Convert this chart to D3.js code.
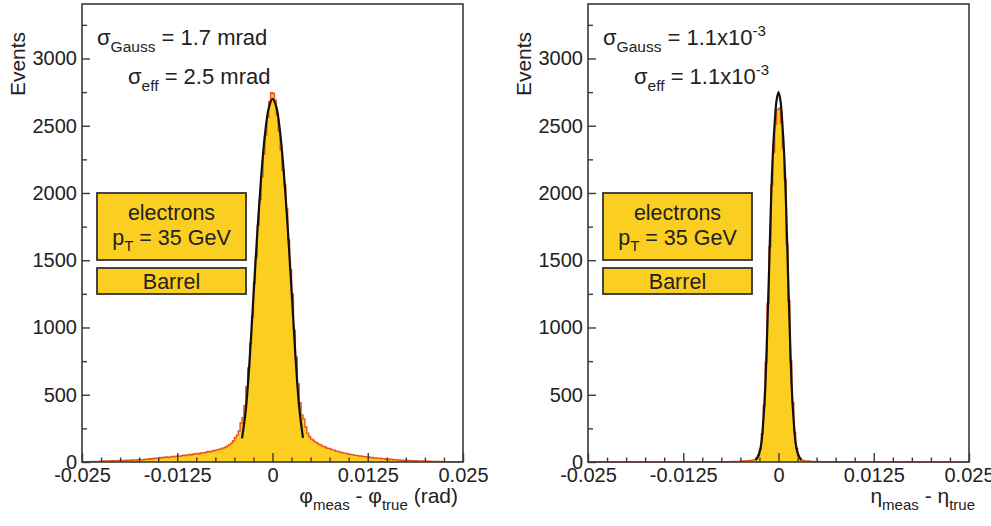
<!DOCTYPE html>
<html>
<head>
<meta charset="utf-8">
<script src="https://cdn.jsdelivr.net/npm/d3@7/dist/d3.min.js"></script>
<style>
  html, body { margin: 0; padding: 0; background: #fff; }
  svg { display: block; }
  text { font-family: "Liberation Sans", Arial, Helvetica, sans-serif; fill: #222; }
</style>
</head>
<body>
<svg id="chart" width="991" height="526"></svg>
<script>
// ---------------- DATA ----------------
const xDomain = [-0.025, 0.025];
const yDomain = [0, 3405];
const xMajorTicks = [-0.025, -0.0125, 0, 0.0125, 0.025];
const xTickLabels = ["-0.025", "-0.0125", "0", "0.0125", "0.025"];
const xMinorTicks = [-0.0225, -0.02, -0.0175, -0.015, -0.01, -0.0075, -0.005, -0.0025,
                     0.0025, 0.005, 0.0075, 0.01, 0.015, 0.0175, 0.02, 0.0225];
const yMajorTicks = [0, 500, 1000, 1500, 2000, 2500, 3000];
const yTickLabels = ["0", "500", "1000", "1500", "2000", "2500", "3000"];
const yMinorTicks = [250, 750, 1250, 1750, 2250, 2750, 3250];

// phi residual histogram: 200 bins of 0.00025 from -0.025
const phiBinWidth = 0.00025;
const phiCounts = [
  1, 2, 2, 3, 3, 4, 4, 5, 5, 6,
  6, 7, 7, 8, 8, 9, 9, 10, 10, 11,
  11, 12, 12, 13, 14, 13, 15, 16, 15, 17,
  18, 17, 19, 21, 20, 24, 22, 26, 28, 27,
  30, 33, 31, 35, 37, 34, 38, 41, 39, 43,
  45, 42, 47, 50, 48, 53, 56, 52, 58, 61,
  64, 60, 67, 70, 68, 74, 78, 75, 82, 85,
  88, 92, 96, 100, 105, 112, 120, 128, 140, 158,
  180, 200, 230, 290, 330, 420, 560, 700, 880, 1080,
  1330, 1520, 1760, 1950, 2120, 2290, 2430, 2560, 2680, 2745,
  2740, 2690, 2580, 2460, 2320, 2170, 2060, 1880, 1650, 1430,
  1250, 980, 780, 580, 440, 350, 320, 260, 215, 190,
  170, 162, 148, 142, 130, 127, 116, 113, 104, 101,
  97, 90, 88, 80, 79, 72, 71, 66, 65, 59,
  58, 55, 53, 49, 49, 45, 45, 41, 40, 37,
  37, 34, 34, 30, 31, 27, 28, 25, 25, 22,
  22, 19, 20, 17, 18, 15, 16, 13, 14, 12,
  12, 11, 12, 10, 9, 9, 8, 8, 7, 7,
  7, 6, 6, 5, 5, 5, 4, 4, 4, 3,
  3, 3, 2, 3, 2, 2, 1, 2, 1, 1
];
// Gaussian fit curve (phi)
const phiFitX = [-0.004, -0.0035, -0.003, -0.0025, -0.002, -0.0015, -0.001, -0.0005, 0,
                 0.0005, 0.001, 0.0015, 0.002, 0.0025, 0.003, 0.0035, 0.004];
const phiFitY = [176, 390, 760, 1230, 1700, 2110, 2430, 2630, 2700,
                 2640, 2450, 2140, 1740, 1280, 800, 410, 180];

// eta residual histogram: 200 bins of 0.00025 from -0.025
const etaBinWidth = 0.00025;
const etaCounts = [
  0, 0, 0, 0, 0, 0, 0, 0, 0, 0,
  0, 0, 0, 0, 0, 0, 0, 0, 0, 0,
  0, 0, 0, 0, 0, 0, 0, 0, 0, 0,
  0, 0, 0, 0, 0, 0, 0, 0, 0, 0,
  1, 0, 1, 1, 0, 1, 1, 1, 0, 1,
  1, 1, 1, 0, 1, 1, 1, 1, 1, 1,
  1, 1, 1, 1, 2, 1, 2, 2, 2, 2,
  2, 3, 2, 3, 3, 4, 3, 4, 5, 5,
  6, 7, 8, 9, 10, 12, 14, 18, 28, 48,
  95, 210, 420, 740, 1180, 1600, 2060, 2300, 2510, 2620,
  2630, 2520, 2330, 2100, 1620, 1200, 750, 440, 220, 100,
  45, 24, 14, 10, 8, 7, 6, 5, 5, 4,
  4, 3, 3, 3, 2, 2, 2, 2, 2, 1,
  1, 1, 2, 1, 1, 1, 1, 1, 1, 1,
  1, 1, 0, 1, 1, 1, 0, 1, 1, 0,
  1, 1, 0, 1, 0, 1, 1, 0, 1, 0,
  0, 0, 0, 0, 0, 0, 0, 0, 0, 0,
  0, 0, 0, 0, 0, 0, 0, 0, 0, 0,
  0, 0, 0, 0, 0, 0, 0, 0, 0, 0,
  0, 0, 0, 0, 0, 0, 0, 0, 0, 0
];
// Gaussian fit curve (eta)
const etaFitX = [-0.003, -0.00275, -0.0025, -0.00225, -0.002, -0.00175, -0.0015, -0.00125,
                 -0.001, -0.00075, -0.0005, -0.00025, 0, 0.00025, 0.0005, 0.00075, 0.001,
                 0.00125, 0.0015, 0.00175, 0.002, 0.00225, 0.0025, 0.00275, 0.003];
const etaFitY = [15, 35, 70, 140, 300, 540, 940, 1400,
                 1900, 2280, 2520, 2690, 2750, 2690, 2520, 2280, 1900,
                 1400, 940, 540, 300, 140, 70, 35, 15];

// annotation texts
const leftSigmaGauss = "1.7 mrad";
const leftSigmaEff = "2.5 mrad";
const rightSigmaGauss = ["1.1x10", "-3"];
const rightSigmaEff = ["1.1x10", "-3"];
const boxLine1 = "electrons";
const boxLine2 = ["p", "T", " = 35 GeV"];
const boxLine3 = "Barrel";

// ---------------- STYLE ----------------
const histFill = "#FBCE1F";
const histLine = "#E8541E";
const boxFill = "#FBCF22";
const frameColor = "#3a3a3a";

const svg = d3.select("#chart");
svg.append("rect").attr("width", 991).attr("height", 526).attr("fill", "#fff");

const plotLeft = 82, plotRight = 463, plotTop = 4, plotBottom = 462;
const x = d3.scaleLinear().domain(xDomain).range([plotLeft, plotRight]);
const y = d3.scaleLinear().domain(yDomain).range([plotBottom, plotTop]);

function drawPanel(offset, counts, binWidth, fitX, fitY, annot, xTitle) {
  const g = svg.append("g").attr("transform", `translate(${offset},0)`);

  // histogram
  const pts = counts.map((c, i) => ({ x: xDomain[0] + i * binWidth, v: c }));
  pts.push({ x: xDomain[0] + counts.length * binWidth, v: counts[counts.length - 1] });
  const area = d3.area().curve(d3.curveStepAfter)
    .x(d => x(d.x)).y0(y(0)).y1(d => y(d.v));
  const line = d3.line().curve(d3.curveStepAfter)
    .x(d => x(d.x)).y(d => y(d.v));
  g.append("path").attr("d", area(pts)).attr("fill", histFill).attr("stroke", "none");
  g.append("path").attr("d", line(pts)).attr("fill", "none")
    .attr("stroke", histLine).attr("stroke-width", 1.4);

  // fit
  const fitPts = fitX.map((xv, i) => ({ x: xv, v: fitY[i] }));
  const fitLine = d3.line().curve(d3.curveCatmullRom.alpha(0.5))
    .x(d => x(d.x)).y(d => y(d.v));
  g.append("path").attr("d", fitLine(fitPts)).attr("fill", "none")
    .attr("stroke", "#111").attr("stroke-width", 2.2);

  // axes
  const xMaj = d3.axisBottom(x).tickValues(xMajorTicks)
    .tickFormat((d, i) => xTickLabels[i]).tickSize(-9).tickPadding(6);
  const xMin = d3.axisBottom(x).tickValues(xMinorTicks).tickFormat("").tickSize(-4.5);
  const yMaj = d3.axisLeft(y).tickValues(yMajorTicks)
    .tickFormat((d, i) => yTickLabels[i]).tickSize(-8).tickPadding(5);
  const yMin = d3.axisLeft(y).tickValues(yMinorTicks).tickFormat("").tickSize(-5);

  [[xMaj, `translate(0,${plotBottom})`], [xMin, `translate(0,${plotBottom})`],
   [yMaj, `translate(${plotLeft},0)`], [yMin, `translate(${plotLeft},0)`]].forEach(([ax, tr]) => {
    const a = g.append("g").attr("transform", tr).call(ax);
    a.select(".domain").remove();
    a.selectAll("line").attr("stroke", frameColor).attr("stroke-width", 1.4);
    a.selectAll("text").attr("font-size", 20).attr("fill", "#222")
      .attr("font-family", "'Liberation Sans', Arial, sans-serif");
  });

  // frame
  g.append("rect").attr("x", plotLeft).attr("y", plotTop)
    .attr("width", plotRight - plotLeft).attr("height", plotBottom - plotTop)
    .attr("fill", "none").attr("stroke", frameColor).attr("stroke-width", 1.6);

  // y title
  g.append("text").attr("transform", "translate(25,64) rotate(-90)")
    .attr("text-anchor", "middle").attr("font-size", 21).text("Events");

  // x title
  const xt = g.append("text").attr("x", xTitle.end).attr("y", 503)
    .attr("text-anchor", "end").attr("font-size", 21);
  xt.append("tspan").text(xTitle.sym);
  xt.append("tspan").attr("font-size", 15).attr("dy", 7).text("meas");
  xt.append("tspan").attr("dy", -7).text(" - " + xTitle.sym);
  xt.append("tspan").attr("font-size", 15).attr("dy", 7).text("true");
  if (xTitle.unit) xt.append("tspan").attr("dy", -7).text(" " + xTitle.unit);

  // sigma annotations
  const t1 = g.append("text").attr("x", 97).attr("y", 45).attr("font-size", 22);
  t1.append("tspan").text("σ");
  t1.append("tspan").attr("font-size", 15.5).attr("dy", 7).text("Gauss");
  if (annot.sup1) {
    t1.append("tspan").attr("dy", -7).text(" = " + annot.g[0]);
    t1.append("tspan").attr("font-size", 15).attr("dy", -9).text(annot.g[1]);
  } else {
    t1.append("tspan").attr("dy", -7).text(" = " + annot.g);
  }
  const t2 = g.append("text").attr("x", 128).attr("y", 84).attr("font-size", 22);
  t2.append("tspan").text("σ");
  t2.append("tspan").attr("font-size", 15.5).attr("dy", 7).text("eff");
  if (annot.sup1) {
    t2.append("tspan").attr("dy", -7).text(" = " + annot.e[0]);
    t2.append("tspan").attr("font-size", 15).attr("dy", -9).text(annot.e[1]);
  } else {
    t2.append("tspan").attr("dy", -7).text(" = " + annot.e);
  }

  // boxes
  g.append("rect").attr("x", 97).attr("y", 193).attr("width", 149).attr("height", 67)
    .attr("fill", boxFill).attr("stroke", "#333").attr("stroke-width", 1.8);
  g.append("rect").attr("x", 97).attr("y", 268).attr("width", 149).attr("height", 26)
    .attr("fill", boxFill).attr("stroke", "#333").attr("stroke-width", 1.8);
  g.append("text").attr("x", 171.5).attr("y", 220).attr("text-anchor", "middle")
    .attr("font-size", 21.5).text(boxLine1);
  const p = g.append("text").attr("x", 171.5).attr("y", 245).attr("text-anchor", "middle")
    .attr("font-size", 21.5);
  p.append("tspan").text(boxLine2[0]);
  p.append("tspan").attr("font-size", 15).attr("dy", 6).text(boxLine2[1]);
  p.append("tspan").attr("dy", -6).text(boxLine2[2]);
  g.append("text").attr("x", 171.5).attr("y", 289).attr("text-anchor", "middle")
    .attr("font-size", 21.5).text(boxLine3);
}

drawPanel(0, phiCounts, phiBinWidth, phiFitX, phiFitY,
  { g: leftSigmaGauss, e: leftSigmaEff, sup1: false },
  { sym: "φ", unit: "(rad)", end: 458 });
drawPanel(506, etaCounts, etaBinWidth, etaFitX, etaFitY,
  { g: rightSigmaGauss, e: rightSigmaEff, sup1: true },
  { sym: "η", unit: null, end: 469 });
</script>
</body>
</html>
